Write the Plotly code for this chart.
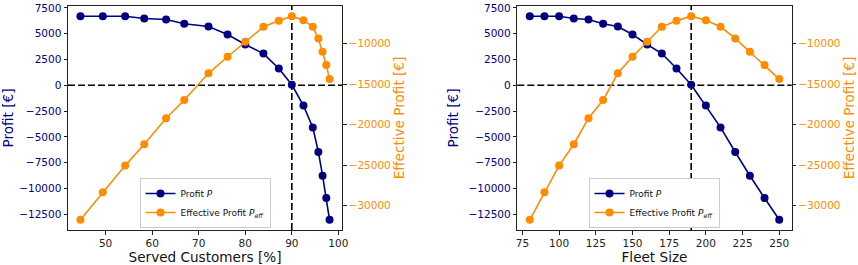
import plotly.graph_objects as go

# ---- data ----
served_customers = [44.6, 49.4, 54.2, 58.3, 63.0, 66.9, 72.1, 76.2, 80.0, 83.9,
                    87.2, 90.0, 92.5, 94.5, 95.7, 96.6, 97.4, 98.1]
fleet_size = [80, 90, 100, 110, 120, 130, 140, 150, 160, 170,
              180, 190, 200, 210, 220, 230, 240, 250]
profit = [6690, 6690, 6690, 6470, 6370, 5950, 5690, 4920, 3950, 3070,
          1620, 50, -1970, -4080, -6460, -8760, -10920, -13030]
effective_profit = [-31730, -28320, -25050, -22420, -19220, -16970, -13680, -11640, -9800, -7950,
                    -7210, -6640, -7130, -7950, -9380, -11030, -12660, -14390]
breakeven_served = 90.0
breakeven_fleet = 190

W, H = 858, 265
NAVY = "#000080"
ORANGE = "#FF8C00"
FONT = "DejaVu Sans"
LINECOL = "#222222"


def padded(vals, frac=0.05):
    lo, hi = min(vals), max(vals)
    p = (hi - lo) * frac
    return [lo - p, hi + p]


fig = go.Figure()

# left panel
fig.add_trace(go.Scatter(x=served_customers, y=profit, mode="lines+markers",
                         name="Profit <i>P</i>", line=dict(color=NAVY, width=1.6),
                         marker=dict(color=NAVY, size=8), xaxis="x", yaxis="y", legend="legend"))
fig.add_trace(go.Scatter(x=served_customers, y=effective_profit, mode="lines+markers",
                         name="Effective Profit <i>P</i><sub><i>eff</i></sub>",
                         line=dict(color=ORANGE, width=1.6),
                         marker=dict(color=ORANGE, size=8), xaxis="x", yaxis="y2", legend="legend"))
# right panel
fig.add_trace(go.Scatter(x=fleet_size, y=profit, mode="lines+markers",
                         name="Profit <i>P</i>", line=dict(color=NAVY, width=1.6),
                         marker=dict(color=NAVY, size=8), xaxis="x2", yaxis="y3", legend="legend2"))
fig.add_trace(go.Scatter(x=fleet_size, y=effective_profit, mode="lines+markers",
                         name="Effective Profit <i>P</i><sub><i>eff</i></sub>",
                         line=dict(color=ORANGE, width=1.6),
                         marker=dict(color=ORANGE, size=8), xaxis="x2", yaxis="y4", legend="legend2"))

ydom = [1 - 230 / H, 1 - 6 / H]

common_x = dict(showgrid=False, zeroline=False, showline=True, mirror=True, linecolor=LINECOL,
                linewidth=1, ticks="outside", ticklen=3.5, tickcolor=LINECOL,
                tickfont=dict(family=FONT, size=10.5, color="#222222"),
                title=dict(font=dict(family=FONT, size=13.6, color="#111111"), standoff=4),
                automargin=False)


def yax(color, side, **kw):
    d = dict(showgrid=False, zeroline=False, showline=True, linecolor=LINECOL, linewidth=1,
             ticks="outside", ticklen=3.5, tickcolor=LINECOL,
             tickfont=dict(family=FONT, size=10.5, color=color), tickformat="d",
             side=side, automargin=False)
    d.update(kw)
    return d


fig.update_layout(
    width=W, height=H,
    margin=dict(l=0, r=0, t=0, b=0),
    paper_bgcolor="white", plot_bgcolor="white",
    font=dict(family=FONT),
    xaxis=dict(common_x, domain=[68 / W, 342 / W], anchor="y", range=padded(served_customers),
               dtick=10, tick0=0, title=dict(common_x["title"], text="Served Customers [%]")),
    xaxis2=dict(common_x, domain=[517.3 / W, 791.7 / W], anchor="y3", range=padded(fleet_size),
                dtick=25, tick0=0, title=dict(common_x["title"], text="Fleet Size")),
    yaxis=yax(NAVY, "left", domain=ydom, anchor="x", range=padded(profit), dtick=2500, tick0=0,
              title=dict(text="Profit [€]", font=dict(family=FONT, size=13.6, color=NAVY), standoff=6)),
    yaxis2=yax(ORANGE, "right", overlaying="y", anchor="x", range=padded(effective_profit),
               dtick=5000, tick0=0,
               title=dict(text="Effective Profit [€]", font=dict(family=FONT, size=13.6, color=ORANGE), standoff=4)),
    yaxis3=yax(NAVY, "left", domain=ydom, anchor="x2", range=padded(profit), dtick=2500, tick0=0,
               title=dict(text="Profit [€]", font=dict(family=FONT, size=13.6, color=NAVY), standoff=6)),
    yaxis4=yax(ORANGE, "right", overlaying="y3", anchor="x2", range=padded(effective_profit),
               dtick=5000, tick0=0,
               title=dict(text="Effective Profit [€]", font=dict(family=FONT, size=13.6, color=ORANGE), standoff=4)),
    legend=dict(x=205 / W, y=1 - 228 / H, xanchor="center", yanchor="bottom",
                bgcolor="white", bordercolor="#cccccc", borderwidth=1,
                font=dict(family=FONT, size=9, color="#111111"), tracegroupgap=0),
    legend2=dict(x=654 / W, y=1 - 228 / H, xanchor="center", yanchor="bottom",
                 bgcolor="white", bordercolor="#cccccc", borderwidth=1,
                 font=dict(family=FONT, size=9, color="#111111"), tracegroupgap=0),
    showlegend=True,
)

dash = "7px,3px"
for xa, ya, xv in [("x", "y", breakeven_served), ("x2", "y3", breakeven_fleet)]:
    fig.add_shape(type="line", xref=f"{xa} domain", x0=0, x1=1, yref=ya, y0=0, y1=0,
                  line=dict(color="black", width=1.6, dash=dash), layer="below")
    fig.add_shape(type="line", xref=xa, x0=xv, x1=xv, yref=f"{ya} domain", y0=0, y1=1,
                  line=dict(color="black", width=1.6, dash=dash), layer="below")

fig.write_html("out.html", config={"displayModeBar": False},
               post_script="document.body.style.margin='0';document.body.style.overflow='hidden';")
